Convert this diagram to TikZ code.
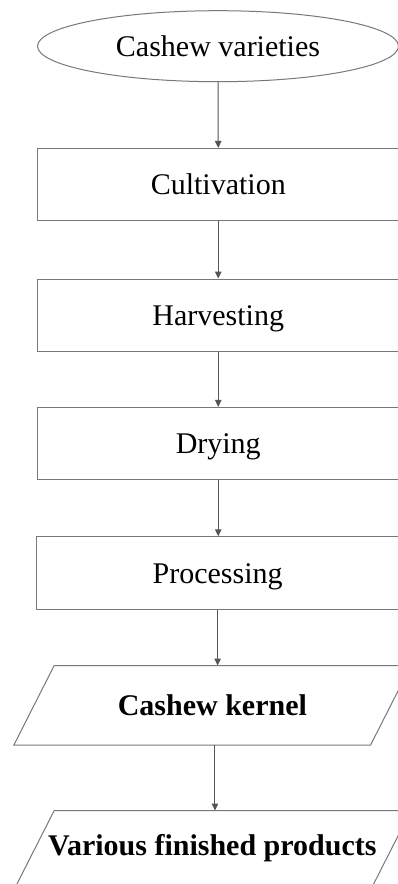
\documentclass[tikz,border=0pt]{standalone}
\usepackage{fontspec}
\setmainfont{Liberation Serif}
\usetikzlibrary{shapes.geometric,arrows.meta,calc}
\definecolor{edgegray}{RGB}{120,120,120}
\definecolor{arrowgray}{RGB}{85,85,85}
\tikzset{
  x=1pt, y=1pt,
  every node/.style={font=\fontsize{30}{36}\selectfont, inner sep=0pt, text height=20pt, text depth=0pt},
  startshape/.style={ellipse, draw=edgegray, line width=1pt, minimum width=361pt, minimum height=71pt},
  stepbox/.style={rectangle, draw=edgegray, line width=1.1pt, minimum width=361.5pt, minimum height=72.3pt},
  databox/.style={rectangle, minimum width=396.7pt, minimum height=79.3pt, font=\fontsize{30}{36}\selectfont\bfseries},
  slanted/.style={draw=edgegray, line width=1pt},
  flow/.style={draw=arrowgray, line width=1pt, -{Triangle[width=6.5pt,length=7pt]}}
}
\begin{document}
\begin{tikzpicture}
\useasboundingbox (0,0) rectangle (398,-884);
\clip (0,0) rectangle (398,-884);
\fill[white] (0,0) rectangle (398,-884);

% process chain
\node[startshape] (var) at (218,-46.2) {Cashew varieties};
\node[stepbox] (cult) at (218.25,-184.6) {Cultivation};
\node[stepbox] (harv) at (218.25,-315.2) {Harvesting};
\node[stepbox] (dry)  at (218.25,-443.6) {Drying};
\node[stepbox] (proc) at (217.6,-573.0) {Processing};

% input/output blocks (parallelograms drawn on the node frames)
\node[databox] (kern) at (212.35,-705.35) {Cashew kernel};
\node[databox, text depth=9pt] (prod) at (212.35,-850.35) {Various finished products};
\draw[slanted] (kern.south west) -- ++(356.7,0) -- (kern.north east) -- ++(-356.7,0) -- cycle;
\draw[slanted] (prod.south west) -- ++(356.7,0) -- (prod.north east) -- ++(-356.7,0) -- cycle;

% connectors
\draw[flow] (var.south) -- (cult.north);
\draw[flow] (cult.south) -- (harv.north);
\draw[flow] (harv.south) -- (dry.north);
\draw[flow] (dry.south) -- (dry.south |- proc.north);
\draw[flow] (proc.south) -- (proc.south |- kern.north);
\draw[flow] ([xshift=2.6pt]kern.south) -- ([xshift=2.6pt]kern.south |- prod.north);
\end{tikzpicture}
\end{document}
